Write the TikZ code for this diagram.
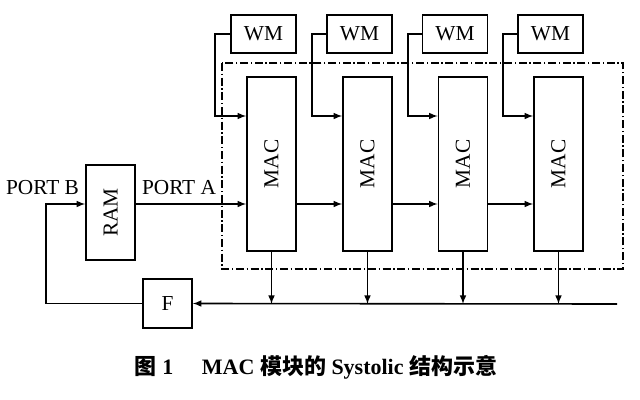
\documentclass[tikz,border=0pt]{standalone}
\usepackage{fontspec}
\setmainfont{Liberation Serif}
\newfontfamily\cjk{Noto Sans CJK SC}
\usetikzlibrary{calc, positioning}

\begin{document}
\begin{tikzpicture}
  [
    x = 0.75pt, y = -0.75pt, line width = 1.2pt,
    every node/.style = {font = \fontsize{16}{19}\selectfont},
    box/.style = {draw, rectangle, inner sep = 0pt},
    wm/.style  = {box, minimum width = 48.75pt, minimum height = 28.5pt},
    mac/.style = {box, minimum width = 36.75pt, minimum height = 130.5pt},
    arr/.style = {-latex},
    frame/.style = {line width = 0.8pt, dash pattern = on 6pt off 2pt on 1pt off 2pt}
  ]
  \useasboundingbox (0,0) rectangle (640,400);

  % weight memories
  \node [wm] (WM1) at (263.5,34) {WM};
  \node [wm] (WM2) at (359.5,34) {WM};
  \node [wm] (WM3) at (455,34)   {WM};
  \node [wm] (WM4) at (550.5,34) {WM};

  % systolic array
  \node [mac] (MAC1) at (271.5,164) {\rotatebox{90}{MAC}};
  \node [mac] (MAC2) at (367.5,164) {\rotatebox{90}{MAC}};
  \node [mac] (MAC3) at (463,164)   {\rotatebox{90}{MAC}};
  \node [mac] (MAC4) at (558.5,164) {\rotatebox{90}{MAC}};
  \draw [frame] (222,63) rectangle (623,269);

  \node [box, minimum width = 36.75pt, minimum height = 71.25pt] (RAM) at (110.5,212.5) {\rotatebox{90}{RAM}};
  \node [box, minimum width = 36.75pt, minimum height = 36.75pt] (F) at (167.5,303.5) {F};

  \node (PortB) at (42.5,188) {PORT B};
  \node (PortA) at (179,188)  {PORT A};

  \coordinate (D)   at (0,204);    % data line
  \coordinate (Bus) at (0,304);    % output bus
  \coordinate (BusEnd) at (617,304);
  \coordinate (Fb)  at (46,204);
  \coordinate (K1)  at (215,116);
  \coordinate (K2)  at (312,116);
  \coordinate (K3)  at (408,116);
  \coordinate (K4)  at (503,116);

  % weights into the MACs
  \draw [arr] (WM1.west) -| (K1) -- (K1 -| MAC1.west);
  \draw [arr] (WM2.west) -| (K2) -- (K2 -| MAC2.west);
  \draw [arr] (WM3.west) -| (K3) -- (K3 -| MAC3.west);
  \draw [arr] (WM4.west) -| (K4) -- (K4 -| MAC4.west);

  % data flow
  \draw [arr] (RAM.east |- D) -- (MAC1.west |- D);
  \draw [arr] (MAC1.east |- D) -- (MAC2.west |- D);
  \draw [arr] (MAC2.east |- D) -- (MAC3.west |- D);
  \draw [arr] (MAC3.east |- D) -- (MAC4.west |- D);

  % outputs and feedback
  \draw [arr] (MAC1.south) -- (MAC1.south |- Bus);
  \draw [arr] (MAC2.south) -- (MAC2.south |- Bus);
  \draw [arr] (MAC3.south) -- (MAC3.south |- Bus);
  \draw [arr] (MAC4.south) -- (MAC4.south |- Bus);
  \draw [arr] (BusEnd) -- (F.east);
  \draw [arr] (F.west) -| (Fb) -- (RAM.west |- D);

  \node [font = \fontsize{16.5}{20}\selectfont\bfseries] (Caption) at (316,367)
    {{\cjk\bfseries 图}~1\hspace{1.3em}MAC~{\cjk\bfseries 模块的}~Systolic~{\cjk\bfseries 结构示意}};
\end{tikzpicture}
\end{document}
